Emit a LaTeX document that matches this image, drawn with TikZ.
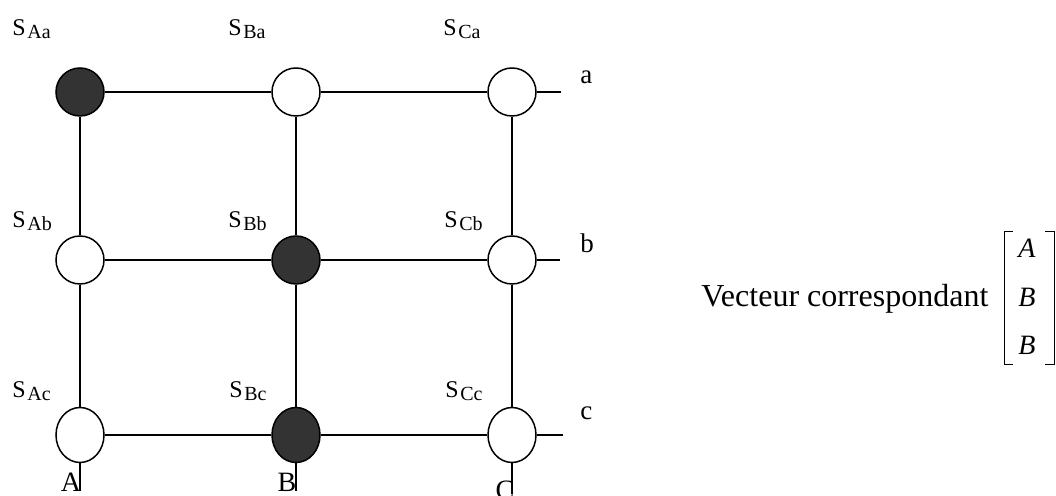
\documentclass[tikz,border=0pt]{standalone}
\usepackage{fontspec}
\setmainfont{Liberation Serif}
\usetikzlibrary{shapes.geometric}
\newcommand\Slab[1]{S\kern0.8pt\raisebox{-1.2pt}{\fontsize{10}{11}\selectfont #1}}
\tikzset{
  wire/.style={line width=0.75pt},
  sw/.style={circle, draw, line width=0.75pt, minimum size=24pt, inner sep=0pt, fill=white},
  swon/.style={sw, fill=black!80},
  swe/.style={ellipse, draw, line width=0.75pt, minimum width=24pt, minimum height=27.5pt, inner sep=0pt, fill=white},
  sweon/.style={swe, fill=black!80},
  lab/.style={font=\fontsize{12}{14}\selectfont, inner sep=0pt, anchor=base west},
  rlab/.style={font=\fontsize{13.5}{15}\selectfont, inner sep=0pt, anchor=base west},
  blab/.style={font=\fontsize{14}{16}\selectfont, inner sep=0pt, anchor=base},
  vtext/.style={font=\fontsize{16}{19}\selectfont, inner sep=0pt, anchor=base west},
  ment/.style={font=\fontsize{14}{16}\selectfont\itshape, inner sep=0pt, anchor=base},
  brk/.style={line width=0.5pt}
}
\begin{document}
\begin{tikzpicture}[x=0.5pt,y=-0.5pt]
\useasboundingbox (0,0) rectangle (1056,496);
% switches
\node[swon] (Aa) at (80,92) {};
\node[sw]   (Ba) at (296,92) {};
\node[sw]   (Ca) at (512,92) {};
\node[sw]   (Ab) at (80,260) {};
\node[swon] (Bb) at (296,260) {};
\node[sw]   (Cb) at (512,260) {};
\node[swe]   (Ac) at (80,435) {};
\node[sweon] (Bc) at (296,435) {};
\node[swe]   (Cc) at (512,435) {};
% free ends
\coordinate (ea) at (561,92);
\coordinate (eb) at (560,260);
\coordinate (ec) at (563,435);
\coordinate (eA) at (80,491);
\coordinate (eB) at (296,491);
\coordinate (eC) at (512,494);
% horizontal wires
\draw[wire] (Aa) -- (Ba); \draw[wire] (Ba) -- (Ca); \draw[wire] (Ca) -- (ea);
\draw[wire] (Ab) -- (Bb); \draw[wire] (Bb) -- (Cb); \draw[wire] (Cb) -- (eb);
\draw[wire] (Ac) -- (Bc); \draw[wire] (Bc) -- (Cc); \draw[wire] (Cc) -- (ec);
% vertical wires
\draw[wire] (Aa) -- (Ab); \draw[wire] (Ab) -- (Ac); \draw[wire] (Ac) -- (eA);
\draw[wire] (Ba) -- (Bb); \draw[wire] (Bb) -- (Bc); \draw[wire] (Bc) -- (eB);
\draw[wire] (Ca) -- (Cb); \draw[wire] (Cb) -- (Cc); \draw[wire] (Cc) -- (eC);
% switch labels
\node[lab] (lAa) at (12,36) {\Slab{Aa}};
\node[lab] (lBa) at (228,36) {\Slab{Ba}};
\node[lab] (lCa) at (443,36) {\Slab{Ca}};
\node[lab] (lAb) at (12,228) {\Slab{Ab}};
\node[lab] (lBb) at (228,228) {\Slab{Bb}};
\node[lab] (lCb) at (444,228) {\Slab{Cb}};
\node[lab] (lAc) at (12,398) {\Slab{Ac}};
\node[lab] (lBc) at (229,398) {\Slab{Bc}};
\node[lab] (lCc) at (445,398) {\Slab{Cc}};
% row labels
\node[rlab] (ra) at (580,84) {a};
\node[rlab] (rb) at (580,253) {b};
\node[rlab] (rc) at (580,420) {c};
% column labels
\node[blab] (cA) at (71,492) {A};
\node[blab] (cB) at (287,492) {B};
\node[blab] (cC) at (505,500) {C};
% vector
\node[vtext] (vt) at (701,307) {Vecteur correspondant};
\draw[brk] (1013,232) -- (1004,232) -- (1004,365) -- (1013,365);
\draw[brk] (1045,232) -- (1054,232) -- (1054,365) -- (1045,365);
\node[ment] (m1) at (1027,258) {A};
\node[ment] (m2) at (1027,307) {B};
\node[ment] (m3) at (1027,355) {B};
\end{tikzpicture}
\end{document}
